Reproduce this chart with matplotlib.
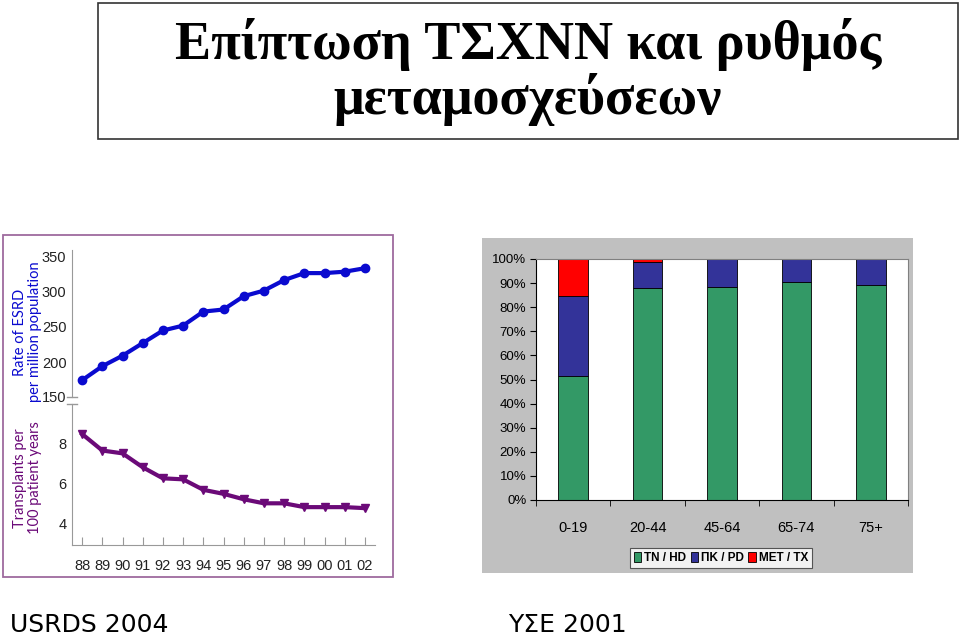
import numpy as np
import matplotlib.pyplot as plt
from matplotlib.patches import Rectangle
from matplotlib.lines import Line2D

# --- data ---
years = ['88', '89', '90', '91', '92', '93', '94', '95', '96', '97', '98', '99', '00', '01', '02']
esrd_rate = [174, 194, 209, 227, 245, 252, 272, 275, 294, 302, 317, 327, 327, 329, 334]
transplants = [8.46, 7.64, 7.50, 6.81, 6.26, 6.21, 5.69, 5.49, 5.22, 5.02, 5.02, 4.83, 4.83, 4.83, 4.78]

age_groups = ['0-19', '20-44', '45-64', '65-74', '75+']
hd_share = [51.6, 87.8, 88.2, 90.3, 89.4]
pd_share = [33.2, 11.1, 11.8, 9.7, 10.6]
tx_share = [15.2, 1.1, 0.0, 0.0, 0.0]
series_labels = ['TN / HD', 'ΠΚ / PD', 'ΜΕΤ / TX']

W, H = 960, 638
fig = plt.figure(figsize=(W / 100, H / 100), dpi=100)


def box(x0, y0, x1, y1):
    # pixel box (top-left origin) -> figure fraction rect
    return [x0 / W, 1 - y1 / H, (x1 - x0) / W, (y1 - y0) / H]


def px(x, y):
    return x / W, 1 - y / H


# title box
fig.patches.append(Rectangle(px(98, 139), 860 / W, 136 / H, transform=fig.transFigure,
                             fill=False, edgecolor='#333333', lw=1.2))
fig.text(*px(528, 72), 'Επίπτωση ΤΣΧΝΝ και ρυθμός\nμεταμοσχεύσεων', ha='center', va='center',
         family='Liberation Serif', weight='bold', fontsize=39, linespacing=1.05)

# ---------- left panel ----------
fig.patches.append(Rectangle(px(3, 577), 390 / W, 342 / H, transform=fig.transFigure,
                             fill=False, edgecolor='#9E6A9E', lw=1.3))

tick_font = dict(family='Liberation Sans', fontsize=10.5)
blue = '#0A0ACF'
purple = '#6B0A78'
xs = np.arange(len(years))

ax1 = fig.add_axes(box(72, 250, 375, 397))
ax1.plot(xs, esrd_rate, color=blue, lw=3, marker='o', ms=6)
ax1.set_xlim(-0.5, 14.5)
ax1.set_ylim(150, 360)
ax1.set_yticks([150, 200, 250, 300, 350])
ax1.set_xticks([])
for s in ['top', 'right', 'bottom']:
    ax1.spines[s].set_visible(False)
ax1.spines['left'].set_color('#999999')
ax1.tick_params(axis='y', length=0, pad=4, colors='#222222')
for t in ax1.get_yticklabels():
    t.set(**tick_font)
ax1.patch.set_alpha(0)

ax2 = fig.add_axes(box(72, 404, 375, 545))
ax2.plot(xs, transplants, color=purple, lw=3, marker='v', ms=6)
ax2.set_xlim(-0.5, 14.5)
ax2.set_ylim(2.95, 9.95)
ax2.set_yticks([4, 6, 8])
ax2.set_xticks(xs)
ax2.set_xticklabels(years)
for s in ['top', 'right']:
    ax2.spines[s].set_visible(False)
ax2.spines['left'].set_color('#999999')
ax2.spines['bottom'].set_color('#999999')
ax2.tick_params(axis='y', length=0, pad=4, colors='#222222')
ax2.tick_params(axis='x', direction='in', length=6, color='#999999', pad=10, colors='#222222')
for t in ax2.get_yticklabels() + ax2.get_xticklabels():
    t.set(**tick_font)
ax2.patch.set_alpha(0)

# axis break marks
for yb in (397, 404):
    fig.add_artist(Line2D([67 / W, 77 / W], [1 - yb / H] * 2, color='#999999', lw=1))

fig.text(*px(20, 332), 'Rate of ESRD', rotation=90, ha='center', va='center',
         color=blue, family='Lato', fontsize=10.5)
fig.text(*px(35, 332), 'per million population', rotation=90, ha='center', va='center',
         color=blue, family='Lato', fontsize=10.5)
fig.text(*px(20, 478), 'Transplants per', rotation=90, ha='center', va='center',
         color=purple, family='Lato', fontsize=10.5)
fig.text(*px(35, 478), '100 patient years', rotation=90, ha='center', va='center',
         color=purple, family='Lato', fontsize=10.5)

# ---------- right panel ----------
bg = fig.add_axes(box(482, 238, 913, 573), zorder=0)
bg.set_facecolor('#C0C0C0')
bg.set_xticks([])
bg.set_yticks([])
for s in bg.spines.values():
    s.set_visible(False)

ax3 = fig.add_axes(box(536, 259, 908, 500), zorder=1)
pos = np.arange(len(age_groups))
colors = ['#339966', '#333399', '#FF0000']
bottom = np.zeros(len(age_groups))
for vals, c, lab in zip([hd_share, pd_share, tx_share], colors, series_labels):
    ax3.bar(pos, vals, 0.4, bottom=bottom, color=c, edgecolor='black', lw=0.6, label=lab)
    bottom += np.array(vals)
ax3.set_xlim(-0.5, 4.5)
ax3.set_ylim(0, 100)
ax3.set_yticks(np.arange(0, 101, 10))
ax3.set_yticklabels([f'{v}%' for v in range(0, 101, 10)])
ax3.set_xticks(pos)
ax3.set_xticklabels(age_groups)
ax3.set_xticks(np.arange(-0.5, 4.6, 1), minor=True)
ax3.tick_params(axis='x', which='major', length=0, pad=15)
ax3.tick_params(axis='x', which='minor', length=4, direction='out')
ax3.tick_params(axis='y', length=4, direction='out', pad=3)
ax3.set_facecolor('white')
for s in ['top', 'right']:
    ax3.spines[s].set_color('#808080')
for t in ax3.get_yticklabels():
    t.set(family='Liberation Sans', fontsize=9.5)
for t in ax3.get_xticklabels():
    t.set(family='Liberation Sans', fontsize=10.5)

leg = fig.legend(loc='center', bbox_to_anchor=px(721, 558), ncol=3, frameon=True,
                 fancybox=False, edgecolor='#333333', facecolor='white',
                 prop=dict(family='Liberation Sans', weight='bold', size=8.5),
                 handlelength=0.6, handleheight=0.9, handletextpad=0.25, columnspacing=0.4,
                 borderpad=0.35, borderaxespad=0)
leg.get_frame().set_linewidth(0.8)
leg.set_zorder(5)

# sources
fig.text(*px(10, 625), 'USRDS 2004', ha='left', va='center', family='DejaVu Sans',
         fontsize=18)
fig.text(*px(508, 625), 'ΥΣΕ 2001', ha='left', va='center', family='DejaVu Sans',
         fontsize=18)

fig.savefig('out.png', dpi=100)
